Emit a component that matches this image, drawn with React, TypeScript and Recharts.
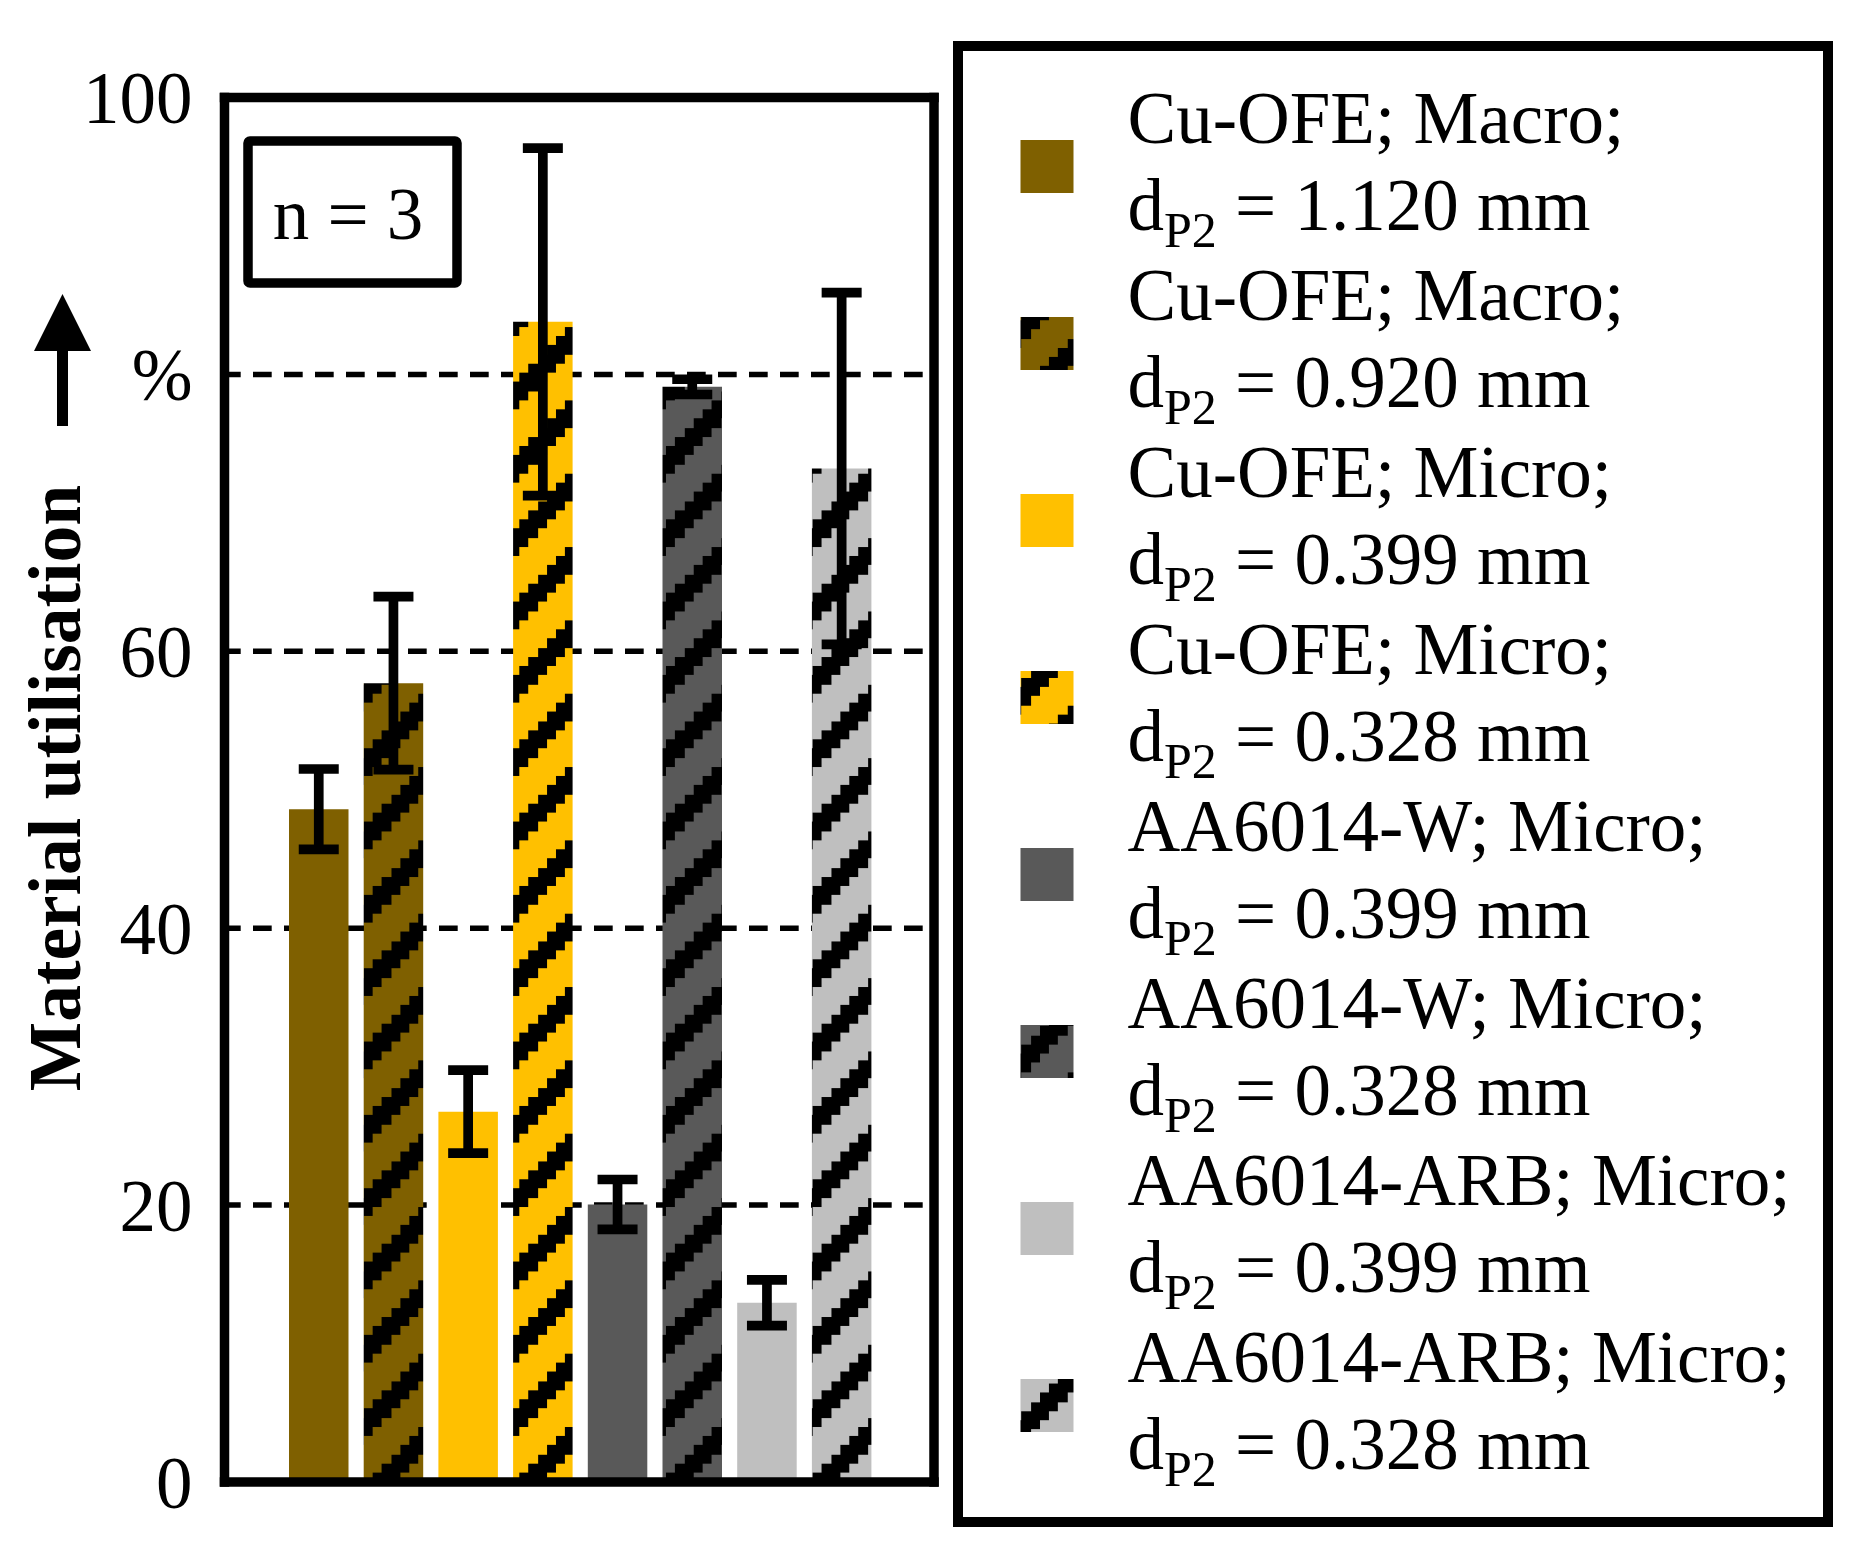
import React from 'react';
import { BarChart, Bar, XAxis, YAxis, CartesianGrid, ErrorBar, Cell, Legend } from 'recharts';

// ---- data ----
const categories = [
  'Cu-OFE Macro 1.120',
  'Cu-OFE Macro 0.920',
  'Cu-OFE Micro 0.399',
  'Cu-OFE Micro 0.328',
  'AA6014-W Micro 0.399',
  'AA6014-W Micro 0.328',
  'AA6014-ARB Micro 0.399',
  'AA6014-ARB Micro 0.328',
];
const utilisation = [48.6, 57.7, 26.75, 83.8, 20.05, 79.1, 12.95, 73.2];
const errors = [2.9, 6.25, 3.0, 12.55, 1.8, 0.55, 1.65, 12.7];
const seriesColors = ['#7F6000', '#7F6000', '#FFC000', '#FFC000', '#595959', '#595959', '#BFBFBF', '#BFBFBF'];
const hatched = [false, true, false, true, false, true, false, true];
const legendMaterial = [
  'Cu-OFE; Macro;',
  'Cu-OFE; Macro;',
  'Cu-OFE; Micro;',
  'Cu-OFE; Micro;',
  'AA6014-W; Micro;',
  'AA6014-W; Micro;',
  'AA6014-ARB; Micro;',
  'AA6014-ARB; Micro;',
];
const legendDiameter = ['1.120', '0.920', '0.399', '0.328', '0.399', '0.328', '0.399', '0.328'];
const yTicks = [0, 20, 40, 60, 80, 100];
const axisTitle = 'Material utilisation';
const sampleNote = 'n = 3';

const FONT = "'Liberation Serif', 'Times New Roman', serif";

const data = categories.map((name, i) => ({ name, value: utilisation[i], err: errors[i] }));
const uniqueColors = Array.from(new Set(seriesColors));
const patternId = (color: string, scope: string) => `hatch-${scope}-${color.slice(1)}`;
const fillFor = (i: number, scope: string) =>
  hatched[i] ? `url(#${patternId(seriesColors[i], scope)})` : seriesColors[i];

const CELL = 73.33 / 8;

function HatchPattern({ color, scope, offset }: { color: string; scope: string; offset: number }) {
  const n = 8;
  const rects: React.ReactNode[] = [];
  for (let r = 0; r < n; r++) {
    for (let k = 0; k < 3; k++) {
      const c = (((k - r) % n) + n) % n;
      rects.push(
        <rect key={r + '-' + k} x={c * CELL} y={r * CELL} width={CELL + 0.2} height={CELL + 0.2} fill="#000" />
      );
    }
  }
  return (
    <pattern
      id={patternId(color, scope)}
      patternUnits="userSpaceOnUse"
      x={offset}
      y={offset}
      width={CELL * n}
      height={CELL * n}
    >
      <rect width={CELL * n} height={CELL * n} fill={color} />
      <g shapeRendering="crispEdges">{rects}</g>
    </pattern>
  );
}

function AxisTitle() {
  return (
    <g>
      <text
        transform="translate(80, 788) rotate(-90)"
        textAnchor="middle"
        fontFamily={FONT}
        fontWeight="bold"
        fontSize={73.5}
        fill="#000"
      >
        {axisTitle}
      </text>
      <polygon points="62.5,294 34,351 91,351" fill="#000" />
      <rect x={57} y={350} width={11} height={76} fill="#000" />
    </g>
  );
}

const LEG_X0 = 962.5;
const LEG_Y0 = 51;

function LegendContent() {
  const pitch = 177;
  return (
    <svg width={860} height={1466} style={{ display: 'block' }}>
      <defs>
        {uniqueColors.map((c) => (
          <HatchPattern key={c} color={c} scope="leg" offset={12.6} />
        ))}
      </defs>
      {legendMaterial.map((m, i) => (
        <g key={i}>
          <rect
            x={1020 - LEG_X0}
            y={140 + pitch * i - LEG_Y0}
            width={53}
            height={53}
            fill={fillFor(i, 'leg')}
          />
          <text x={1127 - LEG_X0} y={143 + pitch * i - LEG_Y0} fontFamily={FONT} fontSize={73} fill="#000">
            {m}
          </text>
          <text x={1127 - LEG_X0} y={230 + pitch * i - LEG_Y0} fontFamily={FONT} fontSize={73} fill="#000">
            <tspan>d</tspan>
            <tspan fontSize={50} dy={17}>
              P2
            </tspan>
            <tspan dy={-17}>{` = ${legendDiameter[i]} mm`}</tspan>
          </text>
        </g>
      ))}
    </svg>
  );
}

const frameLine = { stroke: '#000', strokeWidth: 9.5, strokeLinecap: 'square' as const };

export default function App() {
  return (
    <div style={{ position: 'absolute', left: 0, top: 0, width: 1850, height: 1554, background: '#fff' }}>
      <BarChart
        width={1850}
        height={1554}
        data={data}
        margin={{ top: 96.5, right: 915, bottom: 71, left: 0 }}
        barCategoryGap={0}
      >
        <defs>
          {uniqueColors.map((c) => (
            <HatchPattern key={c} color={c} scope="bar" offset={6} />
          ))}
        </defs>
        <CartesianGrid
          vertical={false}
          stroke="#000"
          strokeWidth={5.5}
          strokeDasharray="18.7 12.3"
          strokeDashoffset={2.5}
        />
        <XAxis
          dataKey="name"
          height={1}
          tick={false}
          tickLine={false}
          padding={{ left: 56.5, right: 55.4 }}
          axisLine={frameLine}
        />
        <XAxis
          xAxisId="top"
          orientation="top"
          dataKey="name"
          height={1}
          tick={false}
          tickLine={false}
          padding={{ left: 56.5, right: 55.4 }}
          axisLine={frameLine}
        />
        <YAxis
          domain={[0, 100]}
          ticks={yTicks}
          interval={0}
          tickFormatter={(v: number) => (v === 80 ? '%' : String(v))}
          tick={{ fill: '#000', fontSize: 73, fontFamily: FONT }}
          tickSize={0}
          tickMargin={32}
          tickLine={false}
          width={224.5}
          axisLine={frameLine}
          label={<AxisTitle />}
        />
        <YAxis
          yAxisId="right"
          orientation="right"
          domain={[0, 100]}
          width={1}
          tick={false}
          tickLine={false}
          axisLine={frameLine}
        />
        <Bar dataKey="value" barSize={59.5} isAnimationActive={false}>
          {data.map((d, i) => (
            <Cell key={d.name} fill={fillFor(i, 'bar')} />
          ))}
          <ErrorBar
            dataKey="err"
            direction="y"
            width={20}
            strokeWidth={9.7}
            stroke="#000"
            isAnimationActive={false}
          />
        </Bar>
        <Legend
          layout="vertical"
          align="center"
          verticalAlign="middle"
          content={<LegendContent />}
          wrapperStyle={{
            left: 952.5,
            top: 41,
            width: 880,
            height: 1486,
            border: '10px solid #000',
            boxSizing: 'border-box',
            background: '#fff',
          }}
        />
      </BarChart>
      <svg
        width={260}
        height={190}
        style={{ position: 'absolute', left: 220, top: 115, pointerEvents: 'none' }}
      >
        <rect x={248 - 220} y={141 - 115} width={209} height={142} fill="#fff" stroke="#000" strokeWidth={9.5} rx={2} />
        <text x={348 - 220} y={239 - 115} textAnchor="middle" fontFamily={FONT} fontSize={73} fill="#000">
          {sampleNote}
        </text>
      </svg>
    </div>
  );
}
